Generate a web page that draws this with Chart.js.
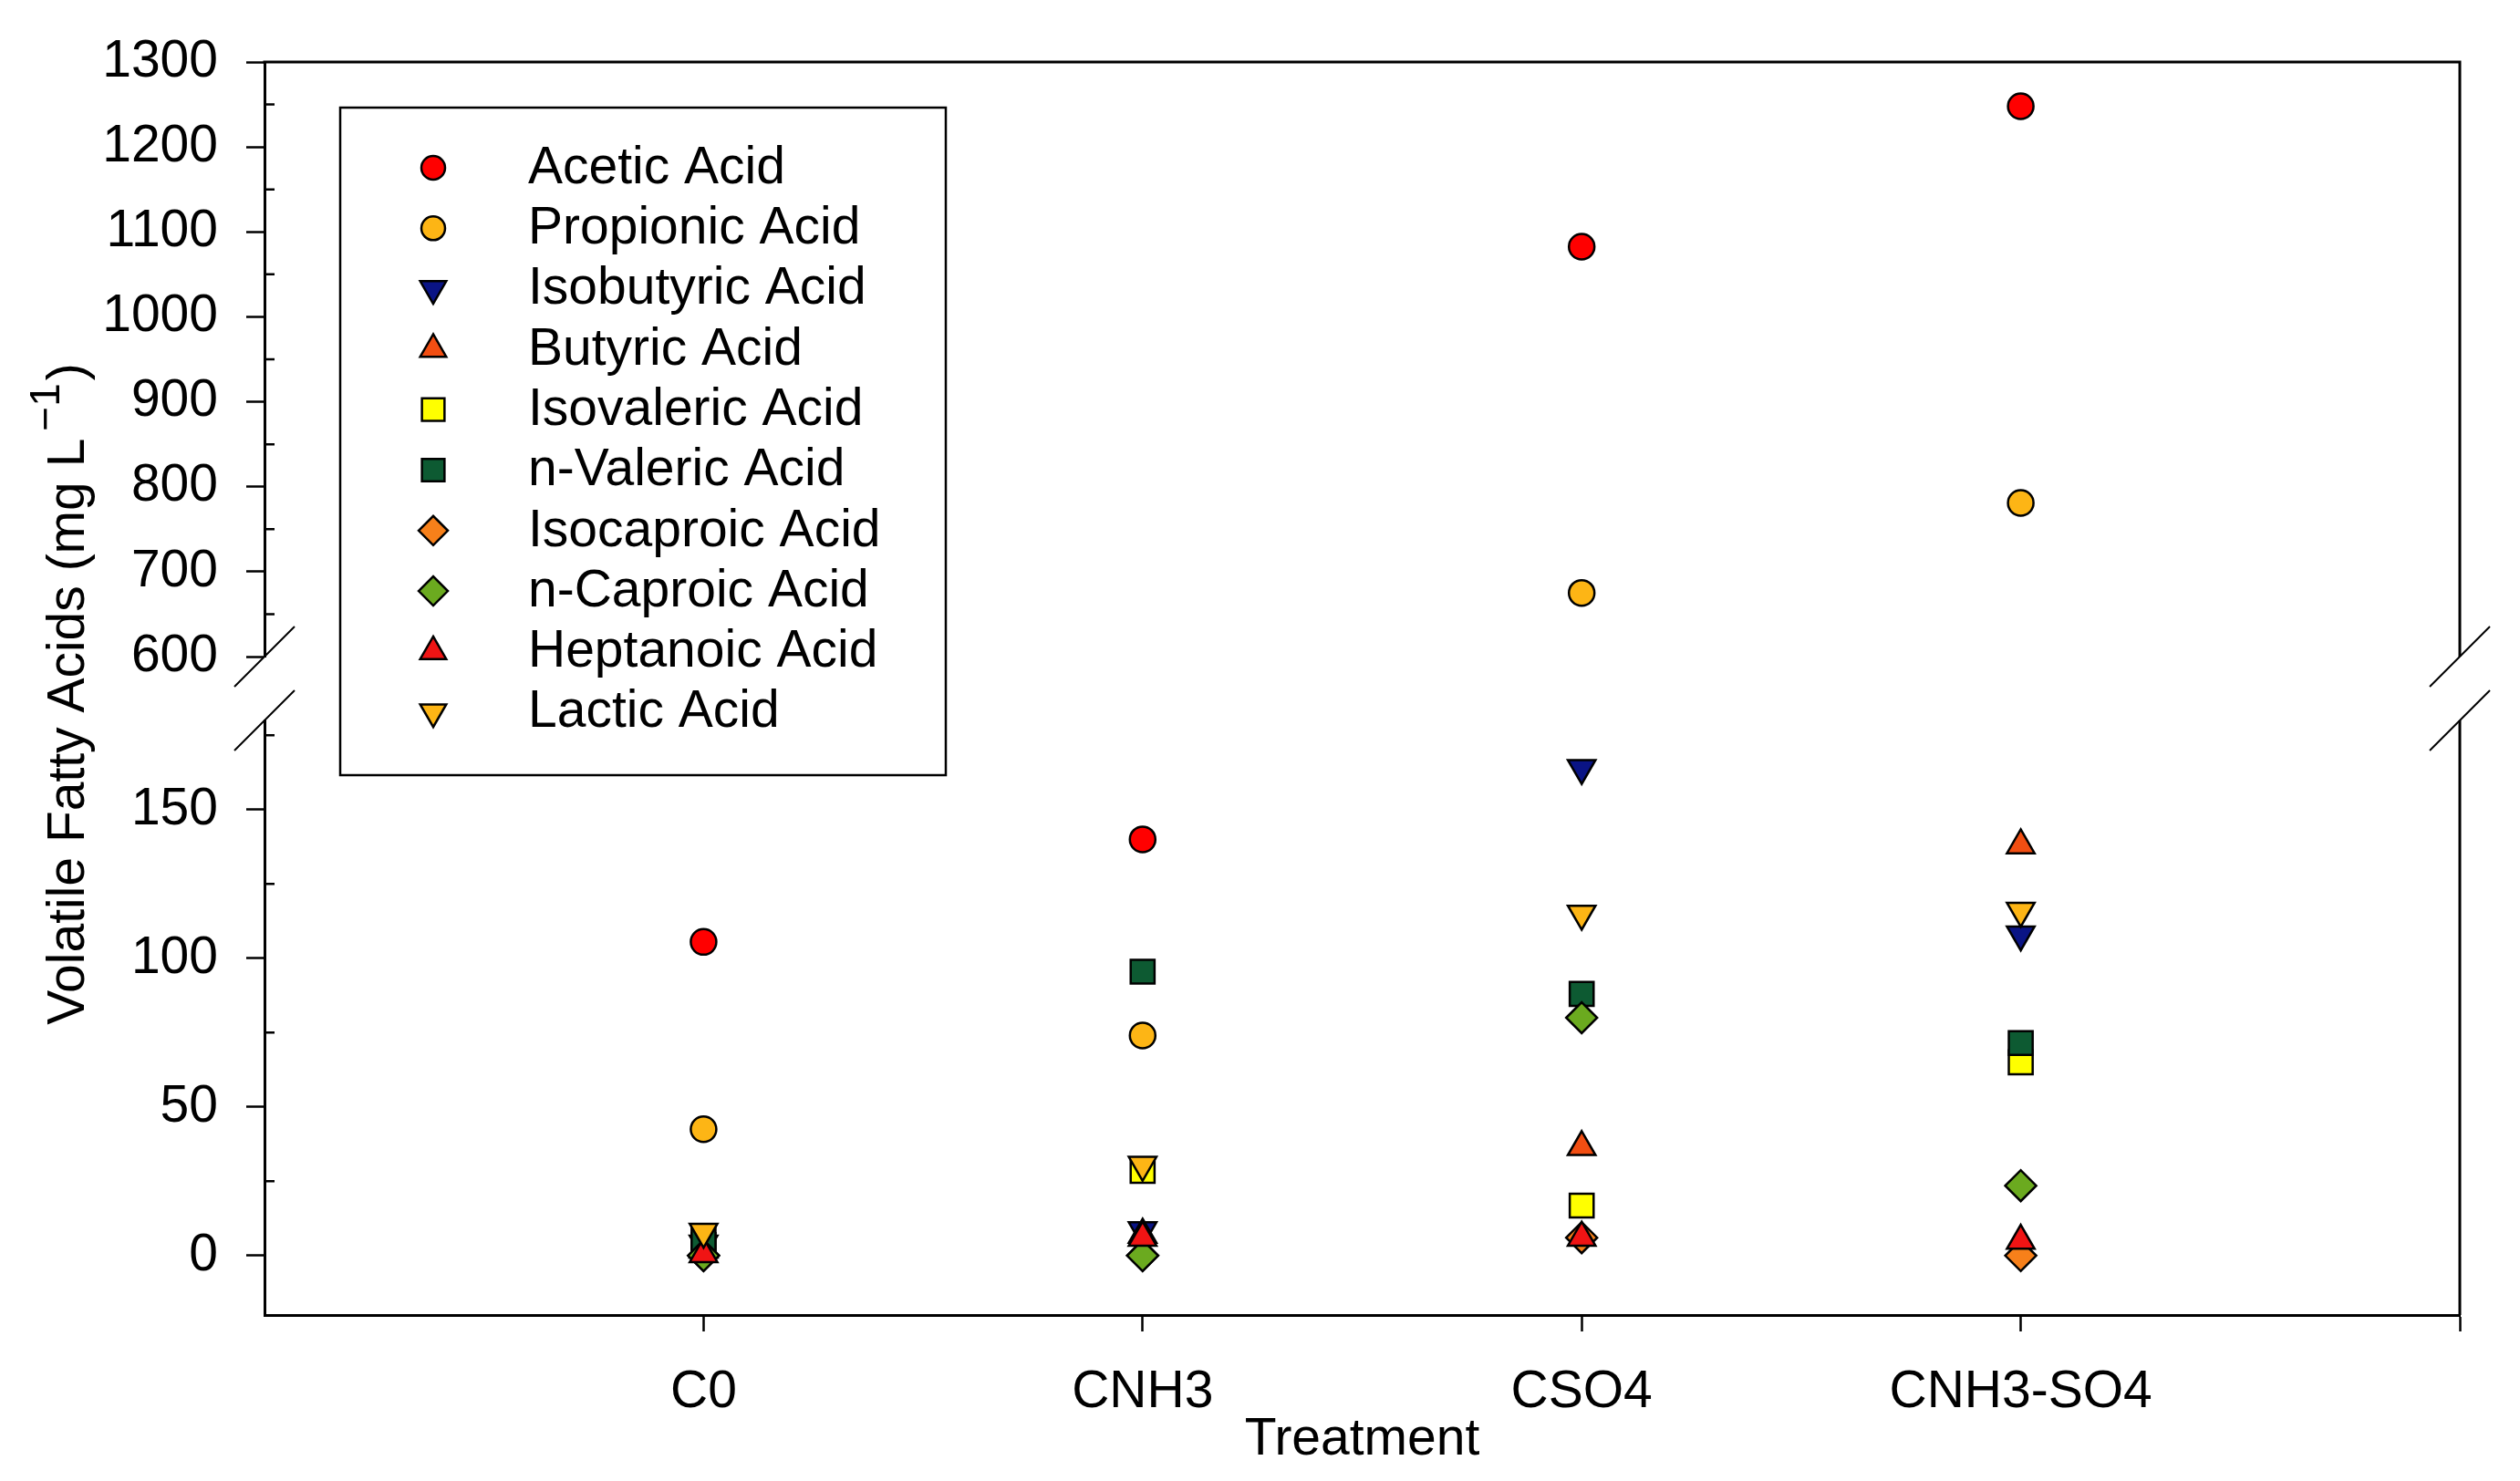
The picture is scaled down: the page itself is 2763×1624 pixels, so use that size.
<!DOCTYPE html>
<html>
<head>
<meta charset="utf-8">
<style>
html,body{margin:0;padding:0;background:#ffffff;}
#wrap{width:2763px;height:1624px;position:relative;}
</style>
<script src="https://cdn.jsdelivr.net/npm/chart.js@4.4.0/dist/chart.umd.min.js"></script>
</head>
<body>
<div id="wrap"><canvas id="c" width="2763" height="1624"></canvas></div>
<script>
// ---------- data ----------
const categories = ['C0', 'CNH3', 'CSO4', 'CNH3-SO4'];
const seriesNames = ['Acetic Acid', 'Propionic Acid', 'Isobutyric Acid', 'Butyric Acid', 'Isovaleric Acid',
                     'n-Valeric Acid', 'Isocaproic Acid', 'n-Caproic Acid', 'Heptanoic Acid', 'Lactic Acid'];
const acetic     = [105.5, 140, 1082.5, 1248];
const propionic  = [42.5, 74, 675, 781];
const isobutyric = [4, 8.5, 164, 108];
const butyric    = [2, 7, 36.5, 138];
const isovaleric = [3.5, 28.5, 16.8, 65];
const nValeric   = [5.5, 95.5, 88, 71.5];
const isocaproic = [0, 0, 6, 0];
const nCaproic   = [0, 0, 80, 23.5];
const heptanoic  = [0.5, 6, 6, 5];
const lactic     = [8, 30.5, 115, 116];
const highTicks = [600, 700, 800, 900, 1000, 1100, 1200, 1300];
const highMinorTicks = [650, 750, 850, 950, 1050, 1150, 1250];
const lowTicks = [0, 50, 100, 150];
const lowMinorTicks = [25, 75, 125, 175];
const xTickValues = [1, 2, 3, 4, 5];
const highRange = [600, 1300];
const lowRange = [-20, 180];

// ---------- styles ----------
const seriesValues = [acetic, propionic, isobutyric, butyric, isovaleric, nValeric, isocaproic, nCaproic, heptanoic, lactic];
const markerStyles = [
  {style: 'circle',   rot: 0,   r: 14,   color: '#FF0000'},
  {style: 'circle',   rot: 0,   r: 14,   color: '#FDB515'},
  {style: 'triangle', rot: 180, r: 17.5, color: '#0A1485'},
  {style: 'triangle', rot: 0,   r: 17.5, color: '#F24E12'},
  {style: 'rect',     rot: 0,   r: 18.5, color: '#FFFF00'},
  {style: 'rect',     rot: 0,   r: 18.5, color: '#0D5A32'},
  {style: 'rectRot',  rot: 0,   r: 17,   color: '#F7801A'},
  {style: 'rectRot',  rot: 0,   r: 17,   color: '#6BAA1F'},
  {style: 'triangle', rot: 0,   r: 17.5, color: '#F01414'},
  {style: 'triangle', rot: 180, r: 17.5, color: '#FDB515'}
];
const FONT = '"Liberation Sans", Arial, Helvetica, sans-serif';
const FS = 57;

// ---------- datasets ----------
const datasets = [];
seriesValues.forEach((vals, si) => {
  const st = markerStyles[si];
  const low = [], high = [];
  vals.forEach((v, i) => {
    if (v <= lowRange[1]) low.push({x: i + 1, y: v});
    else high.push({x: i + 1, y: v});
  });
  const base = {
    label: seriesNames[si],
    showLine: false,
    pointStyle: st.style,
    rotation: st.rot,
    pointRadius: st.r,
    pointHoverRadius: st.r,
    pointBackgroundColor: st.color,
    pointBorderColor: '#000000',
    pointBorderWidth: 2.5,
    pointHoverBorderWidth: 2.5,
    order: 100 - si,
    clip: false
  };
  datasets.push(Object.assign({}, base, {data: low, yAxisID: 'yLow'}));
  if (high.length) datasets.push(Object.assign({}, base, {data: high, yAxisID: 'yHigh'}));
});

// ---------- helpers ----------
function drawMarker(ctx, st, x, y, r) {
  ctx.beginPath();
  if (st.style === 'circle') {
    ctx.arc(x, y, r, 0, Math.PI * 2);
  } else if (st.style === 'triangle') {
    let a = st.rot * Math.PI / 180;
    for (let k = 0; k < 3; k++) {
      const px = x + Math.sin(a) * r, py = y - Math.cos(a) * r;
      if (k === 0) ctx.moveTo(px, py); else ctx.lineTo(px, py);
      a += Math.PI * 2 / 3;
    }
  } else if (st.style === 'rect') {
    const s = r * Math.SQRT1_2;
    ctx.rect(x - s, y - s, 2 * s, 2 * s);
  } else if (st.style === 'rectRot') {
    ctx.moveTo(x - r, y); ctx.lineTo(x, y - r); ctx.lineTo(x + r, y); ctx.lineTo(x, y + r);
  }
  ctx.closePath();
  ctx.fillStyle = st.color;
  ctx.fill();
  ctx.lineWidth = 2.5;
  ctx.strokeStyle = '#000';
  ctx.stroke();
}

const decorPlugin = {
  id: 'decor',
  afterDraw(chart) {
    const ctx = chart.ctx;
    const ca = chart.chartArea;
    const yH = chart.scales.yHigh, yL = chart.scales.yLow;
    ctx.save();
    ctx.strokeStyle = '#000';
    ctx.lineCap = 'butt';
    // top and right frame
    ctx.lineWidth = 3;
    ctx.beginPath();
    ctx.moveTo(ca.left - 1.5, ca.top); ctx.lineTo(ca.right + 1.5, ca.top);
    ctx.moveTo(ca.right, ca.top); ctx.lineTo(ca.right, yH.bottom);
    ctx.moveTo(ca.right, yL.top); ctx.lineTo(ca.right, yL.bottom);
    ctx.stroke();
    // minor ticks (inward)
    ctx.lineWidth = 2.5;
    ctx.beginPath();
    highMinorTicks.forEach(v => { const y = yH.getPixelForValue(v); ctx.moveTo(ca.left, y); ctx.lineTo(ca.left + 11, y); });
    lowMinorTicks.forEach(v => { const y = yL.getPixelForValue(v); ctx.moveTo(ca.left, y); ctx.lineTo(ca.left + 11, y); });
    ctx.stroke();
    // break marks
    ctx.lineWidth = 2;
    ctx.beginPath();
    [ca.left, ca.right].forEach(x => {
      [yH.bottom, yL.top].forEach(y => { ctx.moveTo(x - 33, y + 33); ctx.lineTo(x + 33, y - 33); });
    });
    ctx.stroke();
    // legend
    const lx = 373, ly = 118, lw = 664, lh = 732;
    ctx.lineWidth = 2.5;
    ctx.fillStyle = '#fff';
    ctx.fillRect(lx, ly, lw, lh);
    ctx.strokeRect(lx, ly, lw, lh);
    ctx.font = FS + 'px ' + FONT;
    ctx.textBaseline = 'middle';
    ctx.textAlign = 'left';
    seriesNames.forEach((name, i) => {
      const y = 184 + i * 66.3;
      const st = markerStyles[i];
      drawMarker(ctx, st, 475, y, st.style === 'circle' ? 13 : st.r - 1);
      ctx.fillStyle = '#000';
      ctx.fillText(name, 579, y + 1);
    });
    // y axis title with superscript
    ctx.translate(92, (ca.top + ca.bottom) / 2 + 6);
    ctx.rotate(-Math.PI / 2);
    ctx.textBaseline = 'alphabetic';
    ctx.fillStyle = '#000';
    const t1 = 'Volatile Fatty Acids (mg L', sup = '\u22121', t3 = ')';
    ctx.font = FS + 'px ' + FONT;
    const w1 = ctx.measureText(t1).width, w3 = ctx.measureText(t3).width;
    ctx.font = '46px ' + FONT;
    const w2 = ctx.measureText(sup).width;
    const g1 = 8, g2 = 3;
    const total = w1 + g1 + w2 + g2 + w3;
    let sx = -total / 2;
    ctx.font = FS + 'px ' + FONT;
    ctx.fillText(t1, sx, 0);
    sx += w1 + g1;
    ctx.font = '46px ' + FONT;
    ctx.fillText(sup, sx, -27);
    sx += w2 + g2;
    ctx.font = FS + 'px ' + FONT;
    ctx.fillText(t3, sx, 0);
    ctx.restore();
  }
};

const tickFont = {family: FONT, size: FS};
const yGrid = {drawOnChartArea: false, drawTicks: true, tickLength: 20, tickWidth: 2.5, tickColor: '#000'};
const yTicks = {font: tickFont, color: '#000', padding: 31, autoSkip: false, callback: v => String(v)};

new Chart(document.getElementById('c'), {
  type: 'scatter',
  data: {datasets: datasets},
  options: {
    responsive: false,
    animation: false,
    devicePixelRatio: 1,
    events: [],
    layout: {padding: {left: 0, top: 68, right: 66, bottom: 0}},
    plugins: {legend: {display: false}, tooltip: {enabled: false}},
    scales: {
      x: {
        type: 'linear', position: 'bottom', min: 0, max: 5,
        afterBuildTicks: s => { s.ticks = xTickValues.map(v => ({value: v})); },
        afterFit: s => { s.height = 182; },
        ticks: {callback: v => categories[v - 1] || '', font: tickFont, color: '#000', padding: 33, maxRotation: 0, autoSkip: false},
        grid: {drawOnChartArea: false, drawTicks: true, tickLength: 18, tickWidth: 2.5, tickColor: '#000'},
        border: {display: true, color: '#000', width: 3},
        title: {display: true, text: 'Treatment', font: tickFont, color: '#000', padding: {top: 0, bottom: 11}}
      },
      yHigh: {
        type: 'linear', position: 'left', stack: 'v', stackWeight: 652, weight: 3,
        min: highRange[0], max: highRange[1],
        afterBuildTicks: s => { s.ticks = highTicks.map(v => ({value: v})); },
        afterFit: s => { s.width = 290; },
        ticks: yTicks,
        grid: yGrid,
        border: {display: true, color: '#000', width: 3}
      },
      yGap: {
        type: 'linear', position: 'left', stack: 'v', stackWeight: 70, weight: 2, display: false
      },
      yLow: {
        type: 'linear', position: 'left', stack: 'v', stackWeight: 652, weight: 1,
        min: lowRange[0], max: lowRange[1],
        afterBuildTicks: s => { s.ticks = lowTicks.map(v => ({value: v})); },
        afterFit: s => { s.width = 290; },
        ticks: yTicks,
        grid: yGrid,
        border: {display: true, color: '#000', width: 3}
      }
    }
  },
  plugins: [decorPlugin]
});
</script>
</body>
</html>
